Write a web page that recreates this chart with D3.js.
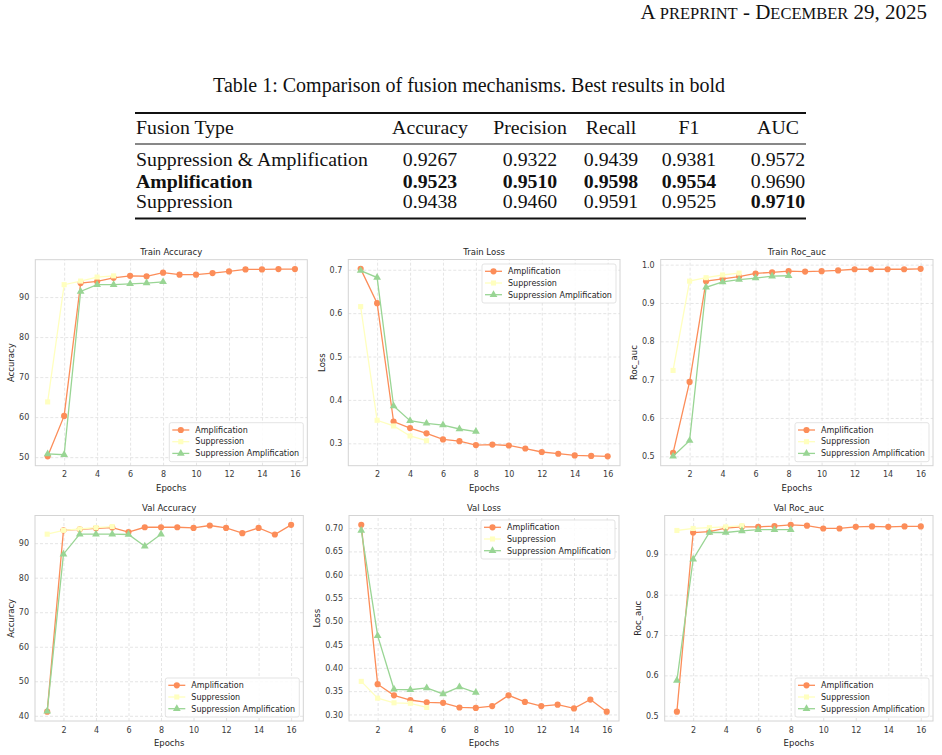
<!DOCTYPE html>
<html>
<head>
<meta charset="utf-8">
<script src="https://cdn.jsdelivr.net/npm/d3@7"></script>
<style>
  body { margin: 0; background: #fff; }
  svg { display: block; }
</style>
</head>
<body>
<svg id="page" width="942" height="755"></svg>
<script>
// ---- data ----
var epochs = [1, 2, 3, 4, 5, 6, 7, 8, 9, 10, 11, 12, 13, 14, 15, 16];
var seriesNames = ["Amplification", "Suppression", "Suppression Amplification"];
var seriesColors = ["#fc8d59", "#ffffbf", "#99d594"];

var trainAccAmp = [50.2, 60.3, 93.5, 93.9, 94.8, 95.3, 95.2, 96.1, 95.6, 95.6, 96.0, 96.4, 96.9, 96.9, 97.0, 97.0];
var trainAccSup = [63.8, 93.1, 94.0, 95.0, 95.3];
var trainAccSupAmp = [50.8, 50.6, 91.4, 93.1, 93.1, 93.3, 93.5, 93.8];

var trainLossAmp = [0.702, 0.623, 0.350, 0.335, 0.323, 0.309, 0.305, 0.296, 0.297, 0.295, 0.288, 0.280, 0.276, 0.272, 0.271, 0.270];
var trainLossSup = [0.615, 0.353, 0.340, 0.317, 0.306];
var trainLossSupAmp = [0.698, 0.682, 0.386, 0.352, 0.346, 0.342, 0.333, 0.327];

var trainRocAmp = [0.509, 0.694, 0.957, 0.963, 0.969, 0.977, 0.980, 0.983, 0.982, 0.983, 0.985, 0.988, 0.988, 0.988, 0.988, 0.989];
var trainRocSup = [0.724, 0.957, 0.966, 0.973, 0.978];
var trainRocSupAmp = [0.500, 0.541, 0.941, 0.955, 0.961, 0.965, 0.970, 0.971];

var valAccAmp = [41.2, 93.7, 94.0, 94.3, 94.5, 93.2, 94.6, 94.6, 94.6, 94.4, 95.1, 94.4, 92.9, 94.4, 92.5, 95.3];
var valAccSup = [92.6, 93.7, 94.1, 94.5, 94.8];
var valAccSupAmp = [41.3, 86.8, 92.6, 92.6, 92.6, 92.5, 89.1, 92.6];

var valLossAmp = [0.707, 0.365, 0.341, 0.331, 0.326, 0.325, 0.315, 0.314, 0.318, 0.341, 0.327, 0.318, 0.321, 0.313, 0.332, 0.306];
var valLossSup = [0.371, 0.335, 0.325, 0.324, 0.315];
var valLossSupAmp = [0.695, 0.469, 0.354, 0.353, 0.357, 0.344, 0.359, 0.347];

var valRocAmp = [0.510, 0.954, 0.956, 0.965, 0.968, 0.968, 0.970, 0.973, 0.971, 0.964, 0.964, 0.968, 0.969, 0.968, 0.969, 0.969];
var valRocSup = [0.959, 0.964, 0.966, 0.968, 0.971];
var valRocSupAmp = [0.587, 0.888, 0.954, 0.954, 0.958, 0.961, 0.961, 0.961];

var xTicks = [2, 4, 6, 8, 10, 12, 14, 16];

// table
var tableCaption = "Table 1: Comparison of fusion mechanisms. Best results in bold";
var tableColumns = ["Fusion Type", "Accuracy", "Precision", "Recall", "F1", "AUC"];
var tableRows = ["Suppression & Amplification", "Amplification", "Suppression"];
var tableValues = [
  ["0.9267", "0.9322", "0.9439", "0.9381", "0.9572"],
  ["0.9523", "0.9510", "0.9598", "0.9554", "0.9690"],
  ["0.9438", "0.9460", "0.9591", "0.9525", "0.9710"]
];
var tableBold = [
  [false, false, false, false, false],
  [true, true, true, true, false],
  [false, false, false, false, true]
];

var svg = d3.select("#page");
var sans = "'DejaVu Sans', sans-serif";
var serif = "'Liberation Serif', 'Times New Roman', serif";

// ---- page header (small caps done by hand) ----
var header = svg.append("text")
  .attr("x", 927).attr("y", 19)
  .attr("text-anchor", "end")
  .style("font-family", serif)
  .attr("fill", "#111");
[["A", 21], [" PREPRINT", 16.5], [" - ", 21], ["D", 21], ["ECEMBER", 16.5], [" 29, 2025", 21]]
  .forEach(function (p) {
    header.append("tspan").style("font-size", p[1] + "px").text(p[0]);
  });

// ---- table ----
svg.append("text")
  .attr("x", 469).attr("y", 92)
  .attr("text-anchor", "middle")
  .style("font-family", serif).style("font-size", "20px")
  .attr("fill", "#111")
  .text(tableCaption);

var ruleX0 = 135, ruleX1 = 806;
svg.append("line").attr("x1", ruleX0).attr("x2", ruleX1).attr("y1", 113).attr("y2", 113)
  .attr("stroke", "#111").attr("stroke-width", 1.8);
svg.append("line").attr("x1", ruleX0).attr("x2", ruleX1).attr("y1", 144).attr("y2", 144)
  .attr("stroke", "#111").attr("stroke-width", 1);
svg.append("line").attr("x1", ruleX0).attr("x2", ruleX1).attr("y1", 218.5).attr("y2", 218.5)
  .attr("stroke", "#111").attr("stroke-width", 1.8);

var colX = [136, 430, 530, 611, 689, 778];
var headerY = 133.5;
var rowY = [166, 187.5, 208];

tableColumns.forEach(function (c, i) {
  svg.append("text")
    .attr("x", colX[i]).attr("y", headerY)
    .attr("text-anchor", i === 0 ? "start" : "middle")
    .style("font-family", serif).style("font-size", "19.8px")
    .attr("fill", "#111")
    .text(c);
});

tableRows.forEach(function (r, ri) {
  svg.append("text")
    .attr("x", colX[0]).attr("y", rowY[ri])
    .style("font-family", serif).style("font-size", "19.8px")
    .style("font-weight", ri === 1 ? "bold" : "normal")
    .attr("fill", "#111")
    .text(r);
  tableValues[ri].forEach(function (v, ci) {
    svg.append("text")
      .attr("x", colX[ci + 1]).attr("y", rowY[ri])
      .attr("text-anchor", "middle")
      .style("font-family", serif).style("font-size", "19.8px")
      .style("font-weight", tableBold[ri][ci] ? "bold" : "normal")
      .attr("fill", "#111")
      .text(v);
  });
});

// ---- panels ----
var panels = [
  { title: "Train Accuracy", ylabel: "Accuracy", data: [trainAccAmp, trainAccSup, trainAccSupAmp],
    ticks: [50, 60, 70, 80, 90], fmt: d3.format("d"), legend: "lower",
    box: { x0: 35.3, x1: 307.3, y0: 259.7, y1: 465.7 } },
  { title: "Train Loss", ylabel: "Loss", data: [trainLossAmp, trainLossSup, trainLossSupAmp],
    ticks: [0.3, 0.4, 0.5, 0.6, 0.7], fmt: d3.format(".1f"), legend: "upper",
    box: { x0: 348.3, x1: 620, y0: 259.5, y1: 465.7 } },
  { title: "Train Roc_auc", ylabel: "Roc_auc", data: [trainRocAmp, trainRocSup, trainRocSupAmp],
    ticks: [0.5, 0.6, 0.7, 0.8, 0.9, 1.0], fmt: d3.format(".1f"), legend: "lower",
    box: { x0: 660.7, x1: 933, y0: 259.5, y1: 465.7 } },
  { title: "Val Accuracy", ylabel: "Accuracy", data: [valAccAmp, valAccSup, valAccSupAmp],
    ticks: [40, 50, 60, 70, 80, 90], fmt: d3.format("d"), legend: "lower",
    box: { x0: 35, x1: 303.3, y0: 515.5, y1: 721 } },
  { title: "Val Loss", ylabel: "Loss", data: [valLossAmp, valLossSup, valLossSupAmp],
    ticks: [0.30, 0.35, 0.40, 0.45, 0.50, 0.55, 0.60, 0.65, 0.70], fmt: d3.format(".2f"), legend: "upper",
    box: { x0: 349, x1: 619, y0: 515.5, y1: 721 } },
  { title: "Val Roc_auc", ylabel: "Roc_auc", data: [valRocAmp, valRocSup, valRocSupAmp],
    ticks: [0.5, 0.6, 0.7, 0.8, 0.9], fmt: d3.format(".1f"), legend: "lower",
    box: { x0: 664.7, x1: 933, y0: 515.5, y1: 721 } }
];

var symbols = [d3.symbolCircle, d3.symbolSquare, d3.symbolTriangle];
var symbolSizes = [30, 26, 26];

panels.forEach(drawPanel);

function drawPanel(p) {
  var b = p.box;
  var g = svg.append("g");

  // matplotlib style 5% margins
  var all = d3.merge(p.data);
  var ext = d3.extent(all);
  var pad = (ext[1] - ext[0]) * 0.05;
  var x = d3.scaleLinear().domain([0.25, 16.75]).range([b.x0, b.x1]);
  var y = d3.scaleLinear().domain([ext[0] - pad, ext[1] + pad]).range([b.y1, b.y0]);

  // grid
  var gx = g.append("g").attr("transform", "translate(0," + b.y1 + ")")
    .call(d3.axisBottom(x).tickValues(xTicks).tickSize(-(b.y1 - b.y0)).tickPadding(6).tickFormat(d3.format("d")));
  var gy = g.append("g").attr("transform", "translate(" + b.x0 + ",0)")
    .call(d3.axisLeft(y).tickValues(p.ticks).tickSize(-(b.x1 - b.x0)).tickPadding(6).tickFormat(p.fmt));
  [gx, gy].forEach(function (ax) {
    ax.select(".domain").remove();
    ax.selectAll(".tick line").attr("stroke", "#dedede").attr("stroke-width", 0.8).attr("stroke-dasharray", "3,2");
    ax.selectAll(".tick text").style("font-family", sans).style("font-size", "8px").attr("fill", "#3a3a3a");
  });

  // frame
  g.append("rect")
    .attr("x", b.x0).attr("y", b.y0)
    .attr("width", b.x1 - b.x0).attr("height", b.y1 - b.y0)
    .attr("fill", "none").attr("stroke", "#d4d4d4").attr("stroke-width", 1);

  // lines and markers
  var line = d3.line().x(function (d, i) { return x(epochs[i]); }).y(function (d) { return y(d); });
  p.data.forEach(function (vals, si) {
    g.append("path").datum(vals)
      .attr("d", line)
      .attr("fill", "none").attr("stroke", seriesColors[si]).attr("stroke-width", 1.3);
    g.selectAll(".m" + si).data(vals).enter().append("path")
      .attr("transform", function (d, i) { return "translate(" + x(epochs[i]) + "," + y(d) + ")"; })
      .attr("d", d3.symbol().type(symbols[si]).size(symbolSizes[si]))
      .attr("fill", seriesColors[si]);
  });

  // title and axis labels
  g.append("text")
    .attr("x", (b.x0 + b.x1) / 2).attr("y", b.y0 - 5)
    .attr("text-anchor", "middle")
    .style("font-family", sans).style("font-size", "8.5px").attr("fill", "#262626")
    .text(p.title);
  g.append("text")
    .attr("x", (b.x0 + b.x1) / 2).attr("y", b.y1 + 25)
    .attr("text-anchor", "middle")
    .style("font-family", sans).style("font-size", "8.5px").attr("fill", "#262626")
    .text("Epochs");

  var tickLeft = d3.min(gy.selectAll(".tick text").nodes(), function (n) {
    return n.getBBox().x + n.parentNode.transform.baseVal.consolidate().matrix.e;
  }) + b.x0;
  g.append("text")
    .attr("transform", "translate(" + (tickLeft - 5) + "," + ((b.y0 + b.y1) / 2) + ") rotate(-90)")
    .attr("text-anchor", "middle")
    .style("font-family", sans).style("font-size", "8.5px").attr("fill", "#262626")
    .text(p.ylabel);

  // legend
  var lw = 134, lh = 39;
  var lx = b.x1 - 4 - lw;
  var ly = p.legend === "upper" ? b.y0 + 4.5 : b.y1 - 4 - lh;
  var lg = g.append("g").attr("transform", "translate(" + lx + "," + ly + ")");
  lg.append("rect").attr("width", lw).attr("height", lh).attr("rx", 2)
    .attr("fill", "#fff").attr("fill-opacity", 0.85)
    .attr("stroke", "#dcdcdc").attr("stroke-width", 0.8);
  seriesNames.forEach(function (name, si) {
    var cy = 7.3 + si * 11.7;
    lg.append("line").attr("x1", 3).attr("x2", 20).attr("y1", cy).attr("y2", cy)
      .attr("stroke", seriesColors[si]).attr("stroke-width", 1.3);
    lg.append("path").attr("transform", "translate(11.5," + cy + ")")
      .attr("d", d3.symbol().type(symbols[si]).size(symbolSizes[si]))
      .attr("fill", seriesColors[si]);
    lg.append("text").attr("x", 26).attr("y", cy).attr("dy", "0.35em")
      .style("font-family", sans).style("font-size", "8px").attr("fill", "#262626")
      .text(name);
  });
}
</script>
</body>
</html>
